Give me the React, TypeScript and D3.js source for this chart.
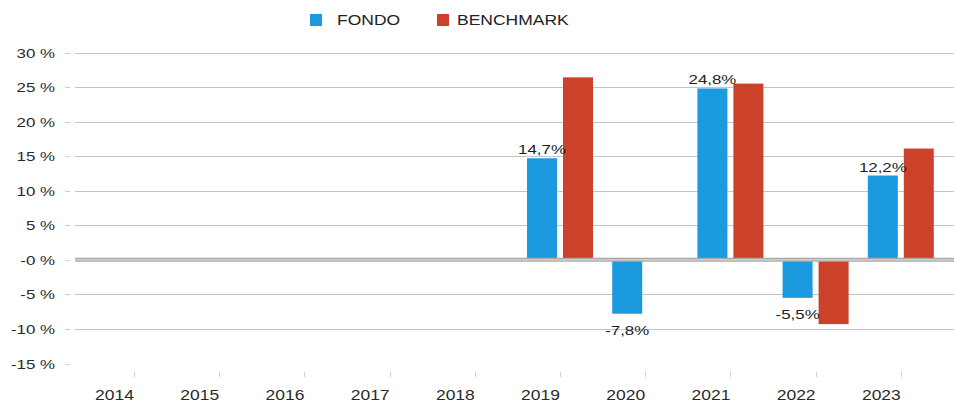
import React, { useRef, useEffect } from "react";
import * as d3 from "d3";

const years = ["2014", "2015", "2016", "2017", "2018", "2019", "2020", "2021", "2022", "2023"];
const fondo: (number | null)[] = [null, null, null, null, null, 14.7, -7.8, 24.8, -5.5, 12.2];
const benchmark: (number | null)[] = [null, null, null, null, null, 26.4, null, 25.5, -9.3, 16.1];
const fondoLabels = ["", "", "", "", "", "14,7%", "-7,8%", "24,8%", "-5,5%", "12,2%"];
const yTicks = [30, 25, 20, 15, 10, 5, 0, -5, -10, -15];
const yTickLabels = ["30 %", "25 %", "20 %", "15 %", "10 %", "5 %", "-0 %", "-5 %", "-10 %", "-15 %"];
const seriesNames = ["FONDO", "BENCHMARK"];
const colors = ["#1c9ae0", "#cb4129"];

const W = 954;
const H = 403;
const FONT = "'Liberation Sans', Arial, sans-serif";
const SX = 1.25; // the reference is stretched sideways

const App = () => {
  const ref = useRef<SVGSVGElement>(null);

  useEffect(() => {
    const svg = d3.select(ref.current);
    svg.selectAll("*").remove();

    const y = d3.scaleLinear().domain([-15, 30]).range([363.5, 52.5]);
    const x = d3.scaleBand().domain(years).range([91.4, 943.4]).padding(0);
    const sub = d3.scaleBand().domain(["f", "b"]).range([-33, 33]).paddingInner(1 / 6);
    const gridLeft = 75;
    const gridRight = W;

    // gridlines
    svg.append("g")
      .selectAll("line")
      .data(yTicks.filter(t => t !== 0 && t !== -15))
      .enter()
      .append("line")
      .attr("x1", gridLeft)
      .attr("x2", gridRight)
      .attr("y1", d => Math.round(y(d)) + 0.5)
      .attr("y2", d => Math.round(y(d)) + 0.5)
      .attr("stroke", "#c4c4c4")
      .attr("stroke-width", 1);

    // y ticks + labels
    const yg = svg.append("g");
    yTicks.forEach((t, i) => {
      yg.append("line")
        .attr("x1", 65).attr("x2", 70)
        .attr("y1", Math.round(y(t)) + 0.5).attr("y2", Math.round(y(t)) + 0.5)
        .attr("stroke", "#cfcfcf");
      yg.append("text")
        .attr("transform", `translate(55,${y(t) + 5}) scale(${SX},1)`)
        .attr("text-anchor", "end")
        .attr("font-family", FONT)
        .attr("font-size", 13.5)
        .attr("fill", "#2a2a2a")
        .text(yTickLabels[i]);
    });

    // x ticks + labels
    const xg = svg.append("g");
    years.forEach(yr => {
      const cx = (x(yr) as number) + x.bandwidth() / 2;
      xg.append("line")
        .attr("x1", Math.round(cx) + 0.5).attr("x2", Math.round(cx) + 0.5)
        .attr("y1", 372).attr("y2", 377)
        .attr("stroke", "#cfcfcf");
      xg.append("text")
        .attr("transform", `translate(${cx},400) scale(${SX},1)`)
        .attr("text-anchor", "end")
        .attr("font-family", FONT)
        .attr("font-size", 14)
        .attr("fill", "#2a2a2a")
        .text(yr);
    });

    // bars
    const bars = svg.append("g");
    [fondo, benchmark].forEach((series, si) => {
      series.forEach((v, i) => {
        if (v === null) return;
        const cx = (x(years[i]) as number) + x.bandwidth() / 2;
        const bx = cx + (sub(si === 0 ? "f" : "b") as number);
        bars.append("rect")
          .attr("x", bx)
          .attr("y", y(Math.max(0, v)))
          .attr("width", sub.bandwidth())
          .attr("height", Math.abs(y(v) - y(0)))
          .attr("fill", colors[si]);
      });
    });

    // zero line (double)
    const y0 = y(0);
    svg.append("line")
      .attr("x1", gridLeft).attr("x2", gridRight)
      .attr("y1", y0).attr("y2", y0)
      .attr("stroke", "#a8a8a8").attr("stroke-width", 4);
    svg.append("line")
      .attr("x1", gridLeft).attr("x2", gridRight)
      .attr("y1", y0).attr("y2", y0)
      .attr("stroke", "#d8d8d8").attr("stroke-width", 1.2);

    // value labels for fondo
    const lab = svg.append("g");
    fondo.forEach((v, i) => {
      if (v === null) return;
      const cx = (x(years[i]) as number) + x.bandwidth() / 2 + (sub("f") as number) + sub.bandwidth() / 2;
      const ty = v >= 0 ? y(v) - 4 : y(v) + 21;
      lab.append("text")
        .attr("transform", `translate(${cx},${ty}) scale(${SX},1)`)
        .attr("text-anchor", "middle")
        .attr("font-family", FONT)
        .attr("font-size", 13.5)
        .attr("fill", "#222")
        .text(fondoLabels[i]);
    });

    // legend
    const legX = [310, 437];
    const legTextX = [337, 457];
    const leg = svg.append("g");
    seriesNames.forEach((n, i) => {
      leg.append("rect")
        .attr("x", legX[i]).attr("y", 14)
        .attr("width", 12).attr("height", 12)
        .attr("fill", colors[i]);
      leg.append("text")
        .attr("transform", `translate(${legTextX[i]},25) scale(${SX},1)`)
        .attr("font-family", FONT)
        .attr("font-size", 14)
        .attr("fill", "#222")
        .text(n);
    });
  }, []);

  return (
    <svg
      ref={ref}
      width={W}
      height={H}
      style={{ position: "fixed", left: 0, top: 0, background: "#fff" }}
    />
  );
};

export default App;
